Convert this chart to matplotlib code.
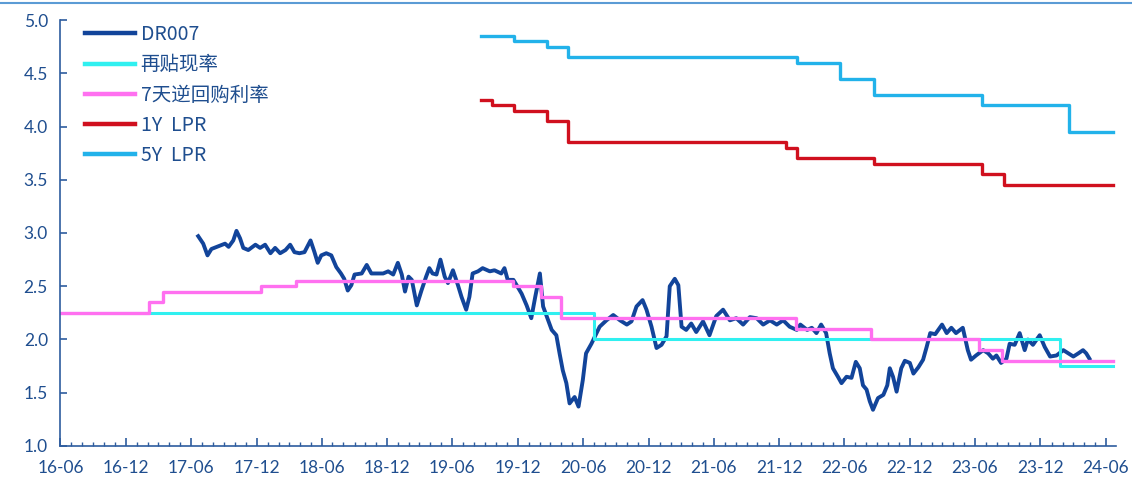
import pandas as pd
import matplotlib.pyplot as plt
import matplotlib.dates as mdates
from matplotlib.lines import Line2D
from matplotlib.ticker import MultipleLocator

plt.rcParams['font.family'] = ['Lato', 'Noto Sans CJK SC', 'DejaVu Sans']

# DR007 (%)
dr007_dates = [
    '2017-06-21', '2017-07-05', '2017-07-17', '2017-07-28', '2017-08-12', '2017-09-04',
    '2017-09-14', '2017-09-27', '2017-10-06', '2017-10-16', '2017-10-25', '2017-11-08',
    '2017-11-28', '2017-12-11', '2017-12-25', '2018-01-09', '2018-01-22', '2018-02-05',
    '2018-02-20', '2018-03-05', '2018-03-17', '2018-03-31', '2018-04-14', '2018-05-01',
    '2018-05-12', '2018-05-21', '2018-05-31', '2018-06-14', '2018-06-28', '2018-07-12',
    '2018-07-25', '2018-08-03', '2018-08-13', '2018-08-23', '2018-09-01', '2018-09-21',
    '2018-10-05', '2018-10-18', '2018-10-23', '2018-11-20', '2018-12-04', '2018-12-18',
    '2018-12-31', '2019-01-11', '2019-01-20', '2019-01-30', '2019-02-08', '2019-02-22',
    '2019-03-07', '2019-03-20', '2019-03-29', '2019-04-07', '2019-04-18', '2019-04-29',
    '2019-05-11', '2019-05-20', '2019-06-03', '2019-06-17', '2019-06-27', '2019-07-10',
    '2019-07-19', '2019-07-28', '2019-08-12', '2019-08-25', '2019-09-14', '2019-09-27',
    '2019-10-16', '2019-10-25', '2019-11-03', '2019-11-19', '2019-11-28', '2019-12-12',
    '2019-12-26', '2020-01-08', '2020-01-19', '2020-02-01', '2020-02-10', '2020-02-24',
    '2020-03-05', '2020-03-18', '2020-03-27', '2020-04-05', '2020-04-15', '2020-04-24',
    '2020-05-08', '2020-05-19', '2020-05-31', '2020-06-09', '2020-06-24', '2020-07-04',
    '2020-07-17', '2020-08-05', '2020-08-24', '2020-09-12', '2020-10-01', '2020-10-14',
    '2020-10-28', '2020-11-14', '2020-11-25', '2020-12-09', '2020-12-23', '2021-01-06',
    '2021-01-20', '2021-01-29', '2021-02-12', '2021-02-22', '2021-03-03', '2021-03-16',
    '2021-03-30', '2021-04-13', '2021-05-02', '2021-05-20', '2021-06-08', '2021-06-27',
    '2021-07-16', '2021-08-03', '2021-08-22', '2021-09-10', '2021-09-29', '2021-10-17',
    '2021-11-05', '2021-11-24', '2021-12-12', '2021-12-30', '2022-01-19', '2022-01-29',
    '2022-02-17', '2022-03-02', '2022-03-15', '2022-03-28', '2022-04-11', '2022-04-21',
    '2022-04-30', '2022-05-14', '2022-05-24', '2022-06-07', '2022-06-21', '2022-07-03',
    '2022-07-14', '2022-07-23', '2022-08-02', '2022-08-11', '2022-08-20', '2022-09-03',
    '2022-09-18', '2022-09-29', '2022-10-06', '2022-10-15', '2022-10-25', '2022-11-07',
    '2022-11-17', '2022-12-01', '2022-12-11', '2022-12-25', '2023-01-07', '2023-01-17',
    '2023-01-27', '2023-02-10', '2023-03-01', '2023-03-14', '2023-03-27', '2023-04-09',
    '2023-04-28', '2023-05-12', '2023-05-21', '2023-06-04', '2023-06-24', '2023-07-08',
    '2023-07-21', '2023-07-31', '2023-08-13', '2023-08-28', '2023-09-06', '2023-09-20',
    '2023-10-04', '2023-10-18', '2023-10-27', '2023-11-10', '2023-11-29', '2023-12-13',
    '2023-12-28', '2024-01-15', '2024-02-03', '2024-02-17', '2024-03-02', '2024-03-16',
    '2024-03-29', '2024-04-07', '2024-04-16',
]
dr007_values = [
    2.97, 2.90, 2.79, 2.85, 2.87, 2.90,
    2.87, 2.93, 3.02, 2.95, 2.86, 2.84,
    2.89, 2.86, 2.89, 2.81, 2.86, 2.81,
    2.84, 2.89, 2.82, 2.81, 2.82, 2.93,
    2.82, 2.72, 2.79, 2.81, 2.79, 2.68,
    2.62, 2.57, 2.46, 2.51, 2.61, 2.62,
    2.70, 2.62, 2.62, 2.62, 2.64, 2.61,
    2.72, 2.61, 2.45, 2.59, 2.56, 2.32,
    2.46, 2.59, 2.67, 2.62, 2.61, 2.75,
    2.59, 2.53, 2.65, 2.51, 2.40, 2.28,
    2.40, 2.62, 2.64, 2.67, 2.64, 2.65,
    2.62, 2.67, 2.56, 2.56, 2.51, 2.43,
    2.32, 2.20, 2.40, 2.62, 2.31, 2.18,
    2.09, 2.04, 1.87, 1.71, 1.59, 1.40,
    1.46, 1.37, 1.62, 1.87, 1.96, 2.03,
    2.12, 2.18, 2.23, 2.18, 2.14, 2.17,
    2.31, 2.37, 2.28, 2.12, 1.92, 1.95,
    2.03, 2.50, 2.57, 2.51, 2.12, 2.09,
    2.15, 2.07, 2.17, 2.04, 2.22, 2.28,
    2.18, 2.20, 2.14, 2.21, 2.20, 2.14,
    2.18, 2.14, 2.18, 2.12, 2.09, 2.14,
    2.09, 2.11, 2.06, 2.14, 2.06, 1.87,
    1.73, 1.65, 1.59, 1.65, 1.64, 1.79,
    1.73, 1.57, 1.53, 1.42, 1.34, 1.45,
    1.48, 1.57, 1.73, 1.65, 1.51, 1.73,
    1.80, 1.78, 1.68, 1.74, 1.81, 1.93,
    2.06, 2.05, 2.14, 2.06, 2.11, 2.06,
    2.11, 1.90, 1.81, 1.85, 1.90, 1.87,
    1.82, 1.85, 1.78, 1.82, 1.96, 1.95,
    2.06, 1.90, 2.00, 1.95, 2.04, 1.93,
    1.84, 1.85, 1.90, 1.87, 1.84, 1.87,
    1.90, 1.87, 1.82,
]

# policy rates: change dates and new levels
end_date = '2024-06-20'
rediscount_dates = ['2016-06-01', '2020-07-01', '2024-01-25']
rediscount_values = [2.25, 2.00, 1.75]

repo7d_dates = ['2016-06-01', '2017-02-03', '2017-03-16', '2017-12-14', '2018-03-22',
                '2019-11-18', '2020-02-03', '2020-03-30', '2022-01-17', '2022-08-15',
                '2023-06-13', '2023-08-15']
repo7d_values = [2.25, 2.35, 2.45, 2.50, 2.55, 2.50, 2.40, 2.20, 2.10, 2.00, 1.90, 1.80]

lpr1y_dates = ['2019-08-20', '2019-09-20', '2019-11-20', '2020-02-20', '2020-04-20',
               '2021-12-20', '2022-01-20', '2022-08-22', '2023-06-20', '2023-08-21']
lpr1y_values = [4.25, 4.20, 4.15, 4.05, 3.85, 3.80, 3.70, 3.65, 3.55, 3.45]

lpr5y_dates = ['2019-08-20', '2019-11-20', '2020-02-20', '2020-04-20', '2022-01-20',
               '2022-05-20', '2022-08-22', '2023-06-20', '2024-02-20']
lpr5y_values = [4.85, 4.80, 4.75, 4.65, 4.60, 4.45, 4.30, 4.20, 3.95]

text_c = '#1F4E8F'
axis_c = '#2E5C9E'

fig = plt.figure(figsize=(11.32, 4.82), dpi=100)
ax = fig.add_axes([0.0534, 0.0747, 0.9324, 0.8838])


def step_line(dates, values, **kw):
    x = pd.to_datetime(dates + [end_date])
    y = values + [values[-1]]
    ax.step(x, y, where='post', **kw)


ax.plot(pd.to_datetime(dr007_dates), dr007_values, color='#12449A', lw=2.8, label='DR007')
step_line(rediscount_dates, rediscount_values, color='#30F0F0', lw=2.2, label='再贴现率')
step_line(repo7d_dates, repo7d_values, color='#FF70F0', lw=2.4, label='7天逆回购利率')
step_line(lpr1y_dates, lpr1y_values, color='#D0101E', lw=2.4, label='1Y  LPR')
step_line(lpr5y_dates, lpr5y_values, color='#22B2EA', lw=2.4, label='5Y  LPR')

ax.set_ylim(1.0, 5.0)
ax.yaxis.set_major_locator(MultipleLocator(0.5))
ax.yaxis.set_major_formatter(plt.FormatStrFormatter('%.1f'))
ax.set_xlim(pd.Timestamp('2016-06-01'), pd.Timestamp('2024-06-29'))
ax.xaxis.set_major_locator(mdates.MonthLocator(bymonth=[6, 12]))
ax.xaxis.set_minor_locator(mdates.MonthLocator())
ax.xaxis.set_major_formatter(mdates.DateFormatter('%y-%m'))

for s in ['top', 'right']:
    ax.spines[s].set_visible(False)
for s in ['left', 'bottom']:
    ax.spines[s].set_color(axis_c)
    ax.spines[s].set_linewidth(1.2)

ax.tick_params(axis='both', which='both', direction='in', colors=axis_c, labelcolor=text_c,
               labelsize=12.5)
ax.tick_params(axis='x', which='major', length=6, width=1.2, pad=10)
ax.tick_params(axis='x', which='minor', length=3, width=1.0)
ax.tick_params(axis='y', which='major', length=5, width=1.2, pad=9)

leg = ax.legend(loc='upper left', bbox_to_anchor=(0.0235, 0.99), frameon=False,
                prop={'family': ['Noto Sans CJK SC', 'DejaVu Sans'], 'size': 14},
                handlelength=2.55, labelspacing=0.47, borderaxespad=0,
                borderpad=0, handletextpad=0.3)
for t in leg.get_texts():
    t.set_color(text_c)
for h in leg.get_lines():
    h.set_linewidth(3.2)

fig.add_artist(Line2D([0, 1], [1 - 3 / 482, 1 - 3 / 482], color='#5B9BD5', lw=1.5))

fig.savefig('out.png', dpi=100)
